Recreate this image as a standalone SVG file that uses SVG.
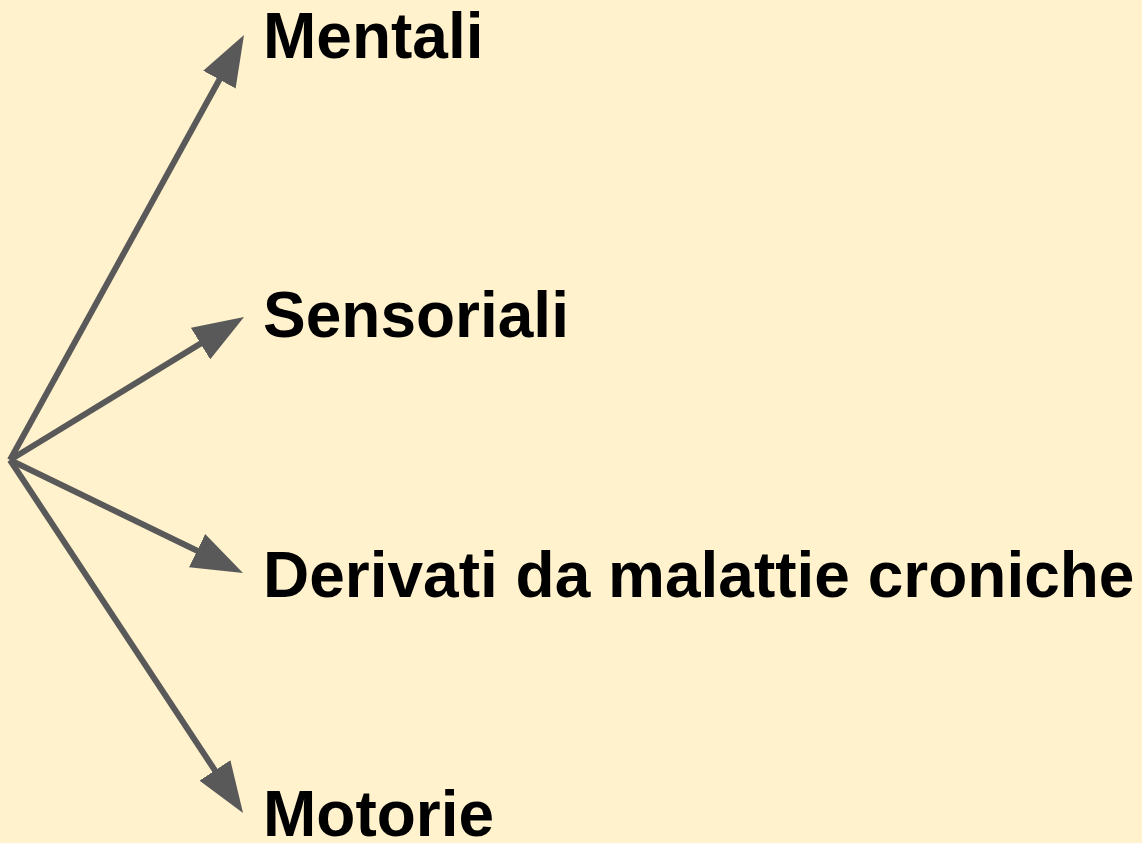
<svg xmlns="http://www.w3.org/2000/svg" width="1142" height="843" viewBox="0 0 1142 843">
  <style>
    .lbl { font-family: "Liberation Sans", Arial, sans-serif; font-weight: bold; font-size: 64px; fill: #000000; }
    .conn { stroke: #595959; stroke-width: 6; fill: none; marker-end: url(#ah); }
  </style>
  <defs>
    <marker id="ah" viewBox="0 0 51 37" refX="11" refY="18.5" markerWidth="51" markerHeight="37" markerUnits="userSpaceOnUse" orient="auto">
      <path d="M0,0 L51,18.5 L0,37 Z" fill="#595959"/>
    </marker>
  </defs>
  <rect x="0" y="0" width="1142" height="843" fill="#fff2cc"/>
  <g id="connectors">
    <line class="conn" x1="10" y1="460" x2="224.7" y2="70.0"/>
    <line class="conn" x1="10" y1="460" x2="209.9" y2="337.9"/>
    <line class="conn" x1="10" y1="460" x2="207.0" y2="555.5"/>
    <line class="conn" x1="10" y1="460" x2="221.0" y2="779.6"/>
  </g>
  <g id="node-mentali"><text class="lbl" x="263" y="58">Mentali</text></g>
  <g id="node-sensoriali"><text class="lbl" x="263" y="337">Sensoriali</text></g>
  <g id="node-derivati"><text class="lbl" x="263" y="597">Derivati da malattie croniche</text></g>
  <g id="node-motorie"><text class="lbl" x="263" y="836">Motorie</text></g>
</svg>
